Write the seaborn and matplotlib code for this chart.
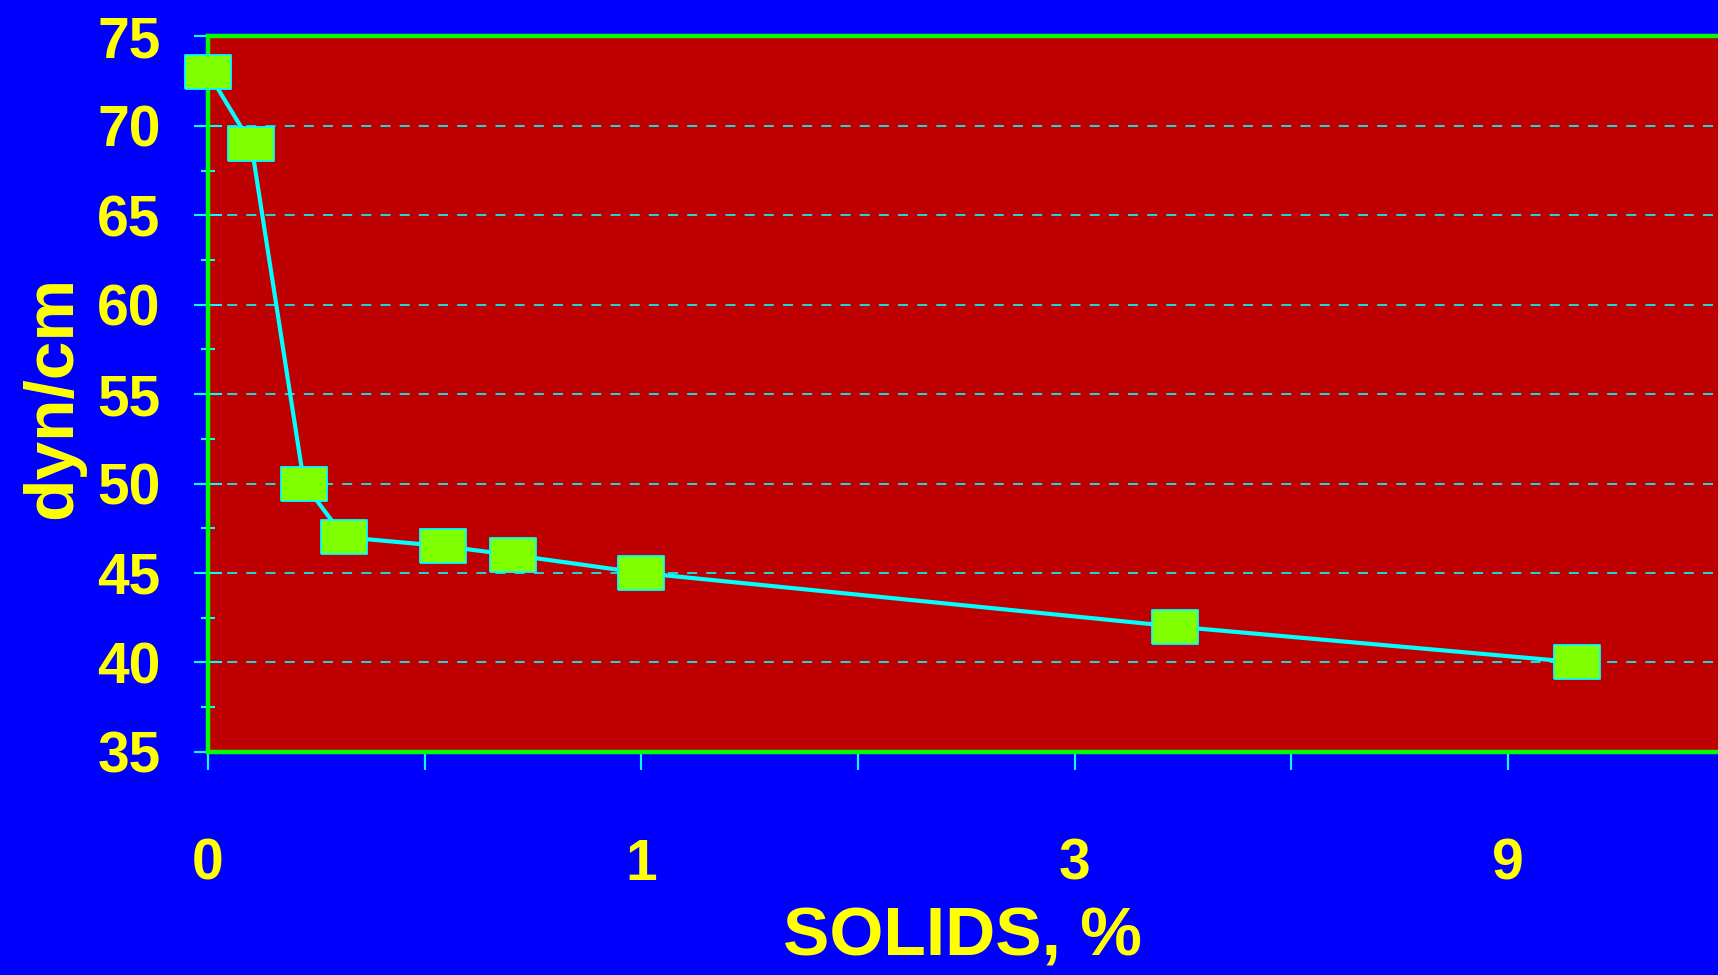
import matplotlib
matplotlib.use("Agg")
import matplotlib.pyplot as plt
import seaborn as sns
import pandas as pd
from matplotlib.ticker import MultipleLocator, FixedLocator

# Surface tension against solids content (x given as position on the stepped solids axis)
solids_pos = [0.0, 0.20, 0.444, 0.629, 1.083, 1.409, 2.0, 4.466, 6.32]
tension = [73, 69, 50, 47, 46.5, 46, 45, 42, 40]
x_tick_pos = [0, 1, 2, 3, 4, 5, 6]
x_tick_labels = ["0", "", "1", "", "3", "", "9"]

BLUE = "#0000FF"
RED = "#BF0000"
GREEN = "#00FF00"
CYAN = "#00FFFF"
LIME = "#80FF00"
YELLOW = "#FFFF00"

sns.set_theme(style="white")
plt.rcParams["font.family"] = ["Liberation Sans", "DejaVu Sans"]
plt.rcParams["font.weight"] = "bold"

fig = plt.figure(figsize=(17.18, 9.75), dpi=100, facecolor=BLUE)
ax = fig.add_axes([0.121, 0.229, 0.879, 0.7336])
ax.set_facecolor(RED)

df = pd.DataFrame({"solids": solids_pos, "tension": tension})
rect = [(-1.36, -1.0), (1.36, -1.0), (1.36, 1.0), (-1.36, 1.0), (-1.36, -1.0)]
sns.lineplot(data=df, x="solids", y="tension", ax=ax, color=CYAN, linewidth=3.0,
             marker=rect, markersize=33, markerfacecolor=LIME,
             markeredgecolor=CYAN, markeredgewidth=1.3, zorder=3, clip_on=False)

ax.set_xlim(0, 6.97)
ax.set_ylim(35, 75)

ax.yaxis.set_major_locator(MultipleLocator(5))
ax.yaxis.set_minor_locator(MultipleLocator(2.5))
ax.xaxis.set_major_locator(FixedLocator(x_tick_pos))
ax.set_xticklabels(x_tick_labels)

ax.grid(False)
ax.yaxis.grid(True, which="major", color=CYAN, linestyle=(0, (6, 5.5)), linewidth=1.2)

for side in ["left", "bottom", "top"]:
    ax.spines[side].set_visible(True)
    ax.spines[side].set_color(GREEN)
    ax.spines[side].set_linewidth(3.2)
    ax.spines[side].set_zorder(2.5)
ax.spines["right"].set_visible(False)

ax.tick_params(axis="y", which="major", direction="inout", length=20, width=1.5,
               color=CYAN, labelcolor=YELLOW, labelsize=41, pad=24, left=True)
ax.tick_params(axis="y", which="minor", direction="inout", length=9.5, width=1.5,
               color=CYAN, left=True)
ax.tick_params(axis="x", which="major", direction="out", length=13, width=1.5,
               color=CYAN, labelcolor=YELLOW, labelsize=41, pad=49, bottom=True)
for lbl in ax.get_xticklabels() + ax.get_yticklabels():
    lbl.set_fontweight("bold")

ax.set_xlabel("SOLIDS, %", color=YELLOW, fontsize=50, fontweight="bold")
ax.set_ylabel("dyn/cm", color=YELLOW, fontsize=50, fontweight="bold")
ax.xaxis.set_label_coords(0.5, -0.215)
ax.yaxis.set_label_coords(-0.081, 0.495)

fig.savefig("out.png", dpi=100, facecolor=BLUE)
